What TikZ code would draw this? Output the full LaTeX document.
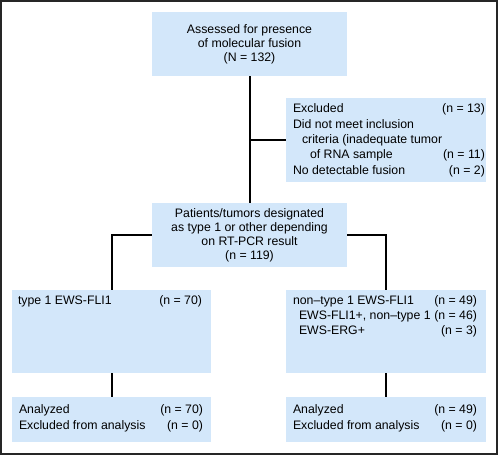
\documentclass[tikz,border=0pt]{standalone}
\usepackage{fontspec}
\setmainfont{Liberation Sans}
\usetikzlibrary{calc}
\tikzset{>=latex}
\definecolor{boxblue}{RGB}{211,231,250}
\tikzstyle{box}=[fill=boxblue,inner sep=0,align=center,font=\fontsize{12.3}{14}\selectfont]
\tikzstyle{txt}=[inner sep=0,anchor=base west,font=\fontsize{12.3}{15}\selectfont]
\tikzstyle{link}=[line width=2,black]
\newcommand{\counts}[1]{%
  \begin{tabular*}{184pt}[t]{@{}l@{\extracolsep{\fill}}r@{}}#1\end{tabular*}%
}

\begin{document}
\begin{tikzpicture}[x=1pt,y=-1pt]
  \useasboundingbox (0,0) rectangle (500,456);
  \draw[line width=1.5,black!85] (1,1) rectangle (497,454);

  % BOXES
  \node[box,minimum width=195,minimum height=64] (assess) at (249.5,44)
    {Assessed for presence\\of molecular fusion\\(N = 132)};
  \node[box,minimum width=200,minimum height=84] (excl) at (386,140) {};
  \node[box,minimum width=195,minimum height=64] (desig) at (249.5,235)
    {Patients/tumors designated\\as type 1 or other depending\\on RT-PCR result\\(n = 119)};
  \node[box,minimum width=199,minimum height=83] (type1) at (111.5,331.5) {};
  \node[box,minimum width=200,minimum height=83] (other) at (386,331.5) {};
  \node[box,minimum width=199,minimum height=45] (ana1) at (111.5,419.5) {};
  \node[box,minimum width=200,minimum height=45] (ana2) at (386,419.5) {};

  % TEXT
  \node[txt] (exclTxt) at ([shift={(7,15)}]excl.north west) {\counts{%
    Excluded & (n = 13)\\[1pt]
    Did not meet inclusion & \\
    \hspace*{9pt}criteria (inadequate tumor & \\
    \hspace*{17pt}of RNA sample & (n = 11)\\[1pt]
    No detectable fusion & (n = 2)}};
  \node[txt] (type1Txt) at ([shift={(6,15)}]type1.north west) {\counts{%
    type 1 EWS-FLI1 & (n = 70)}};
  \node[txt] (otherTxt) at ([shift={(7,15)}]other.north west) {\counts{%
    non–type 1 EWS-FLI1 & (n = 49)\\
    \hspace*{6pt}EWS-FLI1+, non–type 1 & (n = 46)\\
    \hspace*{6pt}EWS-ERG+ & (n = 3)}};
  \node[txt] (ana1Txt) at ([shift={(7,17)}]ana1.north west) {\counts{%
    Analyzed & (n = 70)\\[1pt]
    Excluded from analysis & (n = 0)}};
  \node[txt] (ana2Txt) at ([shift={(7,17)}]ana2.north west) {\counts{%
    Analyzed & (n = 49)\\[1pt]
    Excluded from analysis & (n = 0)}};

  % LINKS
  \draw[link] (assess.south) -- (desig.north);
  \draw[link] (excl.west) -- (excl.west -| assess.south);
  \draw[link] (desig.west) -| (type1.north);
  \draw[link] (desig.east) -| (other.north);
  \draw[link] (type1.south) -- (ana1.north);
  \draw[link] (other.south) -- (ana2.north);
\end{tikzpicture}
\end{document}
